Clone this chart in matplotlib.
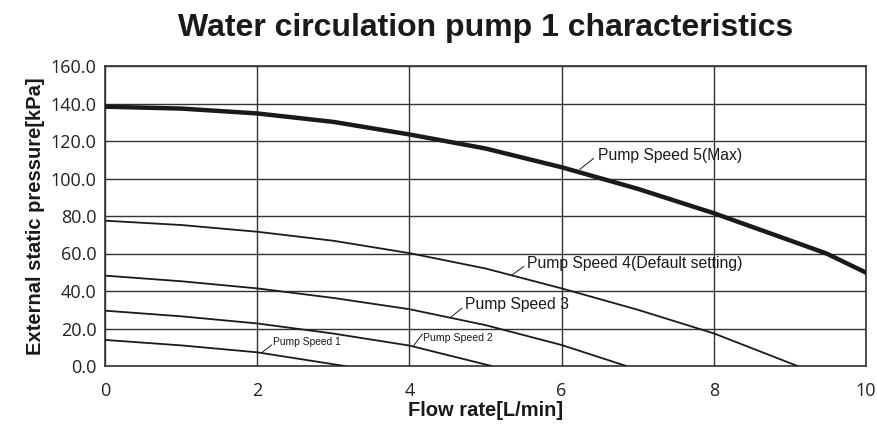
import matplotlib
matplotlib.use("Agg")
import matplotlib.pyplot as plt

s5_x = [0, 1, 2, 3, 4, 5, 6, 7, 8, 9, 9.48, 10]
s5_y = [138.3, 137.3, 134.7, 130.2, 123.5, 116, 106, 94.5, 81.5, 67, 60, 49.8]
s4_x = [0, 1, 2, 3, 4, 5, 6, 7, 8, 9.1]
s4_y = [77.5, 75.2, 71.6, 66.8, 60.2, 52, 41.4, 30, 17.4, 0]
s3_x = [0, 1, 2, 3, 4, 5, 6, 6.85]
s3_y = [48.2, 45.2, 41.4, 36.3, 30.3, 21.8, 11.2, 0]
s2_x = [0, 1, 2, 3, 4, 5.08]
s2_y = [29.5, 26.5, 22.7, 17.3, 10.9, 0]
s1_x = [0, 1, 2, 3.15]
s1_y = [13.9, 11, 7.3, 0]

labels = ["Pump Speed 1", "Pump Speed 2", "Pump Speed 3",
          "Pump Speed 4(Default setting)", "Pump Speed 5(Max)"]
xticks = [0, 2, 4, 6, 8, 10]
yticks = [0, 20, 40, 60, 80, 100, 120, 140, 160]

LINE = "#1a1a1a"
fig = plt.figure(figsize=(8.78, 4.28), dpi=100)
ax = fig.add_axes([105/878, 1-366/428, (866-105)/878, (366-66)/428])

ax.plot(s5_x, s5_y, color=LINE, lw=3.2, zorder=3, solid_joinstyle="round")
for xs, ys in [(s4_x, s4_y), (s3_x, s3_y), (s2_x, s2_y), (s1_x, s1_y)]:
    ax.plot(xs, ys, color=LINE, lw=1.3, zorder=3)

ax.set_xlim(0, 10)
ax.set_ylim(0, 160)
ax.set_xticks(xticks)
ax.set_yticks(yticks)
ax.set_xticklabels([str(v) for v in xticks])
ax.set_yticklabels([f"{v:.1f}" for v in yticks])
for lab in ax.get_xticklabels() + ax.get_yticklabels():
    lab.set_family(["Open Sans", "DejaVu Sans"])
    lab.set_fontsize(13)
    lab.set_color("#222222")
ax.grid(True, color="#333333", lw=1.0)
for sp in ax.spines.values():
    sp.set_linewidth(1.2)
    sp.set_color("#333333")
ax.tick_params(axis="y", length=0, pad=6)
ax.tick_params(axis="x", length=0, pad=11.5)

# annotations: (curve point, leader end, text position, label, fontsize)
ann = [
    ((2.06, 7.1), (2.19, 11.2), (2.21, 12.6), labels[0], 7.4),
    ((4.05, 10.5), (4.17, 17.0), (4.18, 15.1), labels[1], 7.6),
    ((4.53, 25.6), (4.69, 30.8), (4.73, 33.0), labels[2], 11.3),
    ((5.34, 48.3), (5.50, 53.0), (5.545, 54.8), labels[3], 11.3),
    ((6.24, 104.9), (6.42, 110.7), (6.48, 112.5), labels[4], 11.3),
]
for (px, py), (qx, qy), (tx, ty), lab, fs in ann:
    ax.plot([px, qx], [py, qy], color=LINE, lw=0.7, zorder=4)
    ax.text(tx, ty, lab, fontsize=fs, family=["Liberation Sans", "DejaVu Sans"],
            va="center", ha="left", zorder=5, color="#1a1a1a")

ax.set_xlabel("Flow rate[L/min]", fontsize=14.5, fontweight="bold",
              family=["Liberation Sans", "DejaVu Sans"], labelpad=1, color="#1a1a1a")
ax.set_ylabel("External static pressure[kPa]", fontsize=14.5, fontweight="bold",
              family=["Liberation Sans", "DejaVu Sans"], labelpad=4, color="#1a1a1a")
fig.text((105+866)/2/878, 1-28/428, "Water circulation pump 1 characteristics",
         fontsize=23, fontweight="bold", family=["Liberation Sans", "DejaVu Sans"],
         ha="center", va="center", color="#1a1a1a")

fig.savefig("out.png", dpi=100)
